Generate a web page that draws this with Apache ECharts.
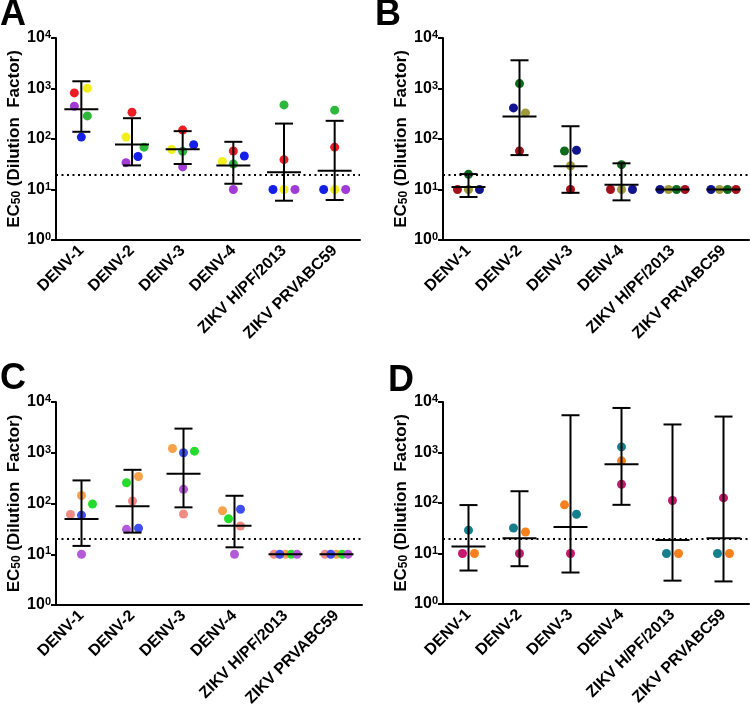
<!DOCTYPE html>
<html>
<head>
<meta charset="utf-8">
<script src="https://cdn.jsdelivr.net/npm/echarts@6/dist/echarts.min.js"></script>
<style>
html,body{margin:0;padding:0;background:#fff;}
#chart{width:750px;height:710px;}
</style>
</head>
<body>
<div id="chart"></div>
<script>
// ---------------- DATA ----------------
const categories = ['DENV-1', 'DENV-2', 'DENV-3', 'DENV-4', 'ZIKV H/PF/2013', 'ZIKV PRVABC59'];
const yTickExponents = [0, 1, 2, 3, 4];
const cutoff = 20;

// Panel A
const aRed    = [818, 339, 150, 58, 39, 69];
const aYellow = [1010, 109, 62, 36, 10, 10];
const aPurple = [446, 34, 28, 10, 10, 10];
const aGreen  = [287, 69, 57, 32, 473, 372];
const aBlue   = [109, 45, 77, 46, 10, 10];
const aMean   = [389, 78, 63, 30, 22, 23.5];
const aLow    = [139, 30, 32, 13, 6, 6.2];
const aHigh   = [1390, 258, 143, 88, 202, 229];

// Panel B
const bRed    = [10, 58, 10, 10, 10, 10];
const bOlive  = [10, 329, 29.5, 10, 10, 10];
const bBlue   = [10, 413, 60, 10, 10, 10];
const bGreen  = [20, 1250, 58, 31, 10, 10];
const bMean   = [11.2, 279, 29, 12.4, 10, 10];
const bLow    = [7.1, 48, 8.6, 6.1, 10, 10];
const bHigh   = [20.2, 3620, 179, 33, 10, 10];

// Panel C
const cPink   = [61, 112, 62, 36, 10, 10];
const cOrange = [144, 341, 1210, 72, 10, 10];
const cBlue   = [59, 32.5, 1000, 77, 10, 10];
const cGreen  = [98, 256, 1074, 50, 10, 10];
const cPurple = [10, 31, 190, 10, 10, 10];
const cMean   = [49.5, 88, 385, 36.6, 10, 10];
const cLow    = [14.6, 26.7, 84, 13.7, 10, 10];
const cHigh   = [285, 461, 2990, 142, 10, 10];

// Panel D
const dTeal    = [29, 32, 60, 1290, 10, 10];
const dOrange  = [10, 26.7, 92, 683, 10, 10];
const dMagenta = [10, 10, 10, 234, 112, 126];
const dMean    = [13.7, 20, 33.5, 587, 18.6, 20];
const dLow     = [4.6, 5.6, 4.2, 92, 2.9, 2.8];
const dHigh    = [91, 171, 5470, 7620, 3590, 5150];

// ---------------- LAYOUT / STYLE ----------------
// horizontal jitter of dots, in pixels (layout only)
const jitter = {
  A: [[-7,0,0,0,0,0],[6,-6,-11,-11,0,0],[-7,-6,0,0,11,11],[6,12,0,0,0,0],[0,6,11,11,-11,-11]],
  B: [[-11,0,0,-11,12.5,12.5],[0,6,0,0,-4,-4],[11,-6,6,11,-12.5,-12.5],[0,0,-6,0,4,4]],
  C: [[-11,0,0,6,-11.5,-11.5],[0,6,-11,-12,0,0],[0,6,0,6,-5.75,-5.75],[11,-6,11,-6,5.75,5.75],[0,-6,0,0,11.5,11.5]],
  D: [[0,-6,6,0,-6,-6],[6,6,-6,0,6,6],[-6,0,0,0,0,0]]
};

const panels = [
  { letter: 'A', grid: {left: 56, top: 38, width: 304, height: 202},
    donors: [aRed, aYellow, aPurple, aGreen, aBlue],
    colors: ['#ec1c24', '#f2ef1a', '#a23bd6', '#2cb83a', '#1420e6'],
    mean: aMean, low: aLow, high: aHigh, letterPos: [0, -3] },
  { letter: 'B', grid: {left: 443, top: 38, width: 306, height: 202},
    donors: [bRed, bOlive, bBlue, bGreen],
    colors: ['#a4101a', '#9f9a3c', '#12148e', '#0e6a1c'],
    mean: bMean, low: bLow, high: bHigh, letterPos: [375, -3] },
  { letter: 'C', grid: {left: 56, top: 402, width: 306, height: 203},
    donors: [cPink, cOrange, cBlue, cGreen, cPurple],
    colors: ['#f28a84', '#f7a24a', '#3e4ef0', '#25dc2c', '#b45ad8'],
    mean: cMean, low: cLow, high: cHigh, letterPos: [0, 361] },
  { letter: 'D', grid: {left: 443, top: 402, width: 306, height: 202},
    donors: [dTeal, dOrange, dMagenta],
    colors: ['#167f8e', '#f5801e', '#c4186c'],
    mean: dMean, low: dLow, high: dHigh, letterPos: [388, 363] }
];

const FONT = 'Liberation Sans, Arial, Helvetica, sans-serif';
const grids = [], xAxes = [], yAxes = [], series = [], graphics = [];

panels.forEach((p, pi) => {
  grids.push(Object.assign({containLabel: false}, p.grid));
  xAxes.push({
    type: 'category', gridIndex: pi, data: categories,
    axisLine: {lineStyle: {color: '#000', width: 2}},
    axisTick: {alignWithLabel: true, length: 5, lineStyle: {color: '#000', width: 2}},
    axisLabel: {interval: 0, rotate: 45, color: '#000', fontFamily: FONT, fontWeight: 'bold', fontSize: 16, margin: 8},
    splitLine: {show: false}
  });
  yAxes.push({
    type: 'log', logBase: 10, gridIndex: pi, min: 1, max: 10000, splitNumber: 4,
    axisLine: {show: true, lineStyle: {color: '#000', width: 2}},
    axisTick: {show: true, length: 5, lineStyle: {color: '#000', width: 2}},
    splitLine: {show: false}, minorTick: {show: false},
    axisLabel: {
      color: '#000', margin: 5,
      formatter: v => {
        const e = Math.round(Math.log10(v));
        return yTickExponents.indexOf(e) >= 0 ? '{b|10}{s|' + e + '}' : '';
      },
      rich: {
        b: {fontFamily: FONT, fontWeight: 'bold', fontSize: 16, color: '#000', lineHeight: 17},
        s: {fontFamily: FONT, fontWeight: 'bold', fontSize: 11, color: '#000', verticalAlign: 'top', lineHeight: 11}
      }
    },
    name: '{a|EC}{sub|50}{a| (Dilution  Factor)}',
    nameLocation: 'middle', nameGap: 33,
    nameTextStyle: {
      rich: {
        a: {fontFamily: FONT, fontWeight: 'bold', fontSize: 17, color: '#000', lineHeight: 18},
        sub: {fontFamily: FONT, fontWeight: 'bold', fontSize: 12, color: '#000', verticalAlign: 'bottom', lineHeight: 13}
      }
    }
  });

  const jit = jitter[p.letter];
  p.donors.forEach((vals, di) => {
    series.push({
      type: 'scatter', xAxisIndex: pi, yAxisIndex: pi, symbol: 'circle', symbolSize: 9,
      itemStyle: {color: p.colors[di], opacity: 1}, z: 2, silent: true,
      data: vals.map((v, ci) => ({value: [ci, v], symbolOffset: [jit[di][ci], 0]}))
    });
  });

  series.push({
    type: 'custom', xAxisIndex: pi, yAxisIndex: pi, z: 5, silent: true,
    data: p.mean.map((m, ci) => [ci, m, p.low[ci], p.high[ci]]),
    renderItem: (params, api) => {
      const cm = api.coord([api.value(0), api.value(1)]);
      const cl = api.coord([api.value(0), api.value(2)]);
      const ch = api.coord([api.value(0), api.value(3)]);
      const x = cm[0];
      const st = {stroke: '#000', lineWidth: 2, fill: null};
      const children = [
        {type: 'line', shape: {x1: x - 17, y1: cm[1], x2: x + 17, y2: cm[1]}, style: st}
      ];
      if (Math.abs(cl[1] - ch[1]) > 0.5) {
        children.push({type: 'line', shape: {x1: x, y1: cl[1], x2: x, y2: ch[1]}, style: st});
        children.push({type: 'line', shape: {x1: x - 9, y1: cl[1], x2: x + 9, y2: cl[1]}, style: st});
        children.push({type: 'line', shape: {x1: x - 9, y1: ch[1], x2: x + 9, y2: ch[1]}, style: st});
      }
      return {type: 'group', children};
    },
    markLine: {
      silent: true, symbol: 'none', label: {show: false},
      lineStyle: {color: '#000', width: 2, type: [2, 3.5]},
      data: [{yAxis: cutoff}]
    }
  });

  graphics.push({
    type: 'text', left: p.letterPos[0], top: p.letterPos[1],
    style: {text: p.letter, fontFamily: FONT, fontWeight: 'bold', fontSize: 36, fill: '#000'}
  });
});

const chart = echarts.init(document.getElementById('chart'), null, {renderer: 'canvas'});
chart.setOption({
  animation: false,
  backgroundColor: '#fff',
  grid: grids, xAxis: xAxes, yAxis: yAxes, series: series, graphic: graphics
});
</script>
</body>
</html>
